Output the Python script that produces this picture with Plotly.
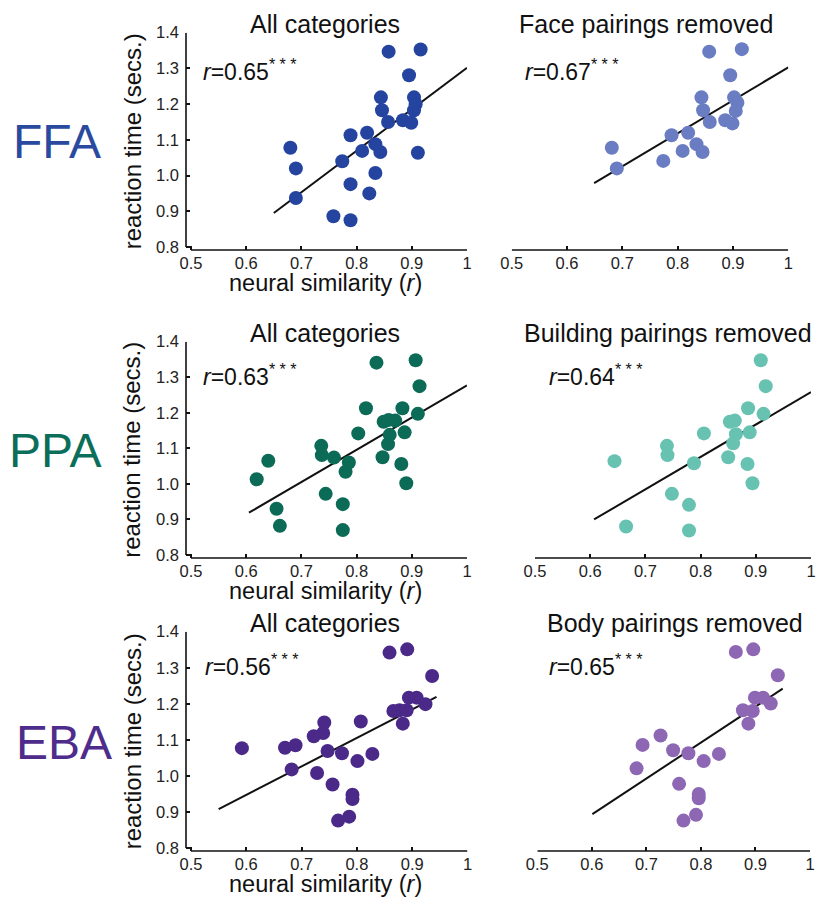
import plotly.graph_objects as go

# ---- data: neural similarity (r) vs. reaction time (secs.) ----
ffa_all_x = [0.858, 0.916, 0.895, 0.844, 0.904, 0.907, 0.904, 0.846, 0.857, 0.884, 0.899, 0.819, 0.789,
             0.680, 0.834, 0.810, 0.843, 0.911, 0.774, 0.690, 0.834, 0.789, 0.690, 0.823, 0.758, 0.789]
ffa_all_y = [1.347, 1.353, 1.281, 1.219, 1.219, 1.200, 1.183, 1.183, 1.150, 1.155, 1.148, 1.120, 1.113,
             1.078, 1.088, 1.069, 1.066, 1.064, 1.040, 1.020, 1.007, 0.976, 0.937, 0.950, 0.886, 0.875]
ffa_sub_x = [0.857, 0.916, 0.895, 0.843, 0.902, 0.908, 0.905, 0.846, 0.858, 0.886, 0.899, 0.819, 0.789,
             0.681, 0.834, 0.809, 0.845, 0.774, 0.690]
ffa_sub_y = [1.347, 1.354, 1.281, 1.219, 1.219, 1.204, 1.181, 1.183, 1.150, 1.155, 1.146, 1.120, 1.113,
             1.078, 1.088, 1.069, 1.066, 1.041, 1.020]

ppa_all_x = [0.907, 0.836, 0.914, 0.817, 0.883, 0.911, 0.849, 0.858, 0.870, 0.803, 0.887, 0.860, 0.857, 0.736,
             0.737, 0.759, 0.786, 0.780, 0.847, 0.881, 0.640, 0.619, 0.890, 0.744, 0.775, 0.655, 0.661, 0.775]
ppa_all_y = [1.348, 1.341, 1.275, 1.213, 1.213, 1.197, 1.175, 1.180, 1.178, 1.142, 1.145, 1.138, 1.112, 1.107,
             1.081, 1.074, 1.060, 1.034, 1.075, 1.056, 1.065, 1.013, 1.002, 0.972, 0.943, 0.930, 0.882, 0.870]
ppa_sub_x = [0.909, 0.918, 0.886, 0.914, 0.853, 0.862, 0.806, 0.889, 0.864, 0.859, 0.739,
             0.740, 0.788, 0.850, 0.885, 0.644, 0.894, 0.748, 0.779, 0.665, 0.779]
ppa_sub_y = [1.348, 1.275, 1.213, 1.197, 1.175, 1.178, 1.142, 1.145, 1.140, 1.114, 1.107,
             1.081, 1.058, 1.075, 1.056, 1.064, 1.002, 0.972, 0.941, 0.880, 0.869]

eba_all_x = [0.891, 0.859, 0.936, 0.894, 0.908, 0.924, 0.866, 0.877, 0.890, 0.883, 0.807, 0.741, 0.739, 0.722,
             0.592, 0.670, 0.689, 0.747, 0.773, 0.828, 0.801, 0.682, 0.728, 0.756, 0.792, 0.792, 0.786, 0.766]
eba_all_y = [1.351, 1.342, 1.277, 1.217, 1.217, 1.199, 1.180, 1.182, 1.182, 1.145, 1.151, 1.148, 1.119, 1.110,
             1.077, 1.078, 1.085, 1.069, 1.063, 1.061, 1.041, 1.018, 1.008, 0.976, 0.948, 0.936, 0.887, 0.876]
eba_sub_x = [0.896, 0.864, 0.941, 0.899, 0.914, 0.928, 0.877, 0.895, 0.887, 0.726, 0.693,
             0.749, 0.777, 0.833, 0.805, 0.682, 0.760, 0.796, 0.796, 0.791, 0.768]
eba_sub_y = [1.351, 1.344, 1.279, 1.217, 1.217, 1.201, 1.182, 1.180, 1.145, 1.112, 1.086,
             1.071, 1.063, 1.061, 1.041, 1.021, 0.978, 0.950, 0.938, 0.892, 0.876]

# regression line end points for each panel
fit_x = [[0.650, 1.000], [0.649, 1.000], [0.605, 1.000], [0.607, 1.000], [0.550, 0.944], [0.601, 0.950]]
fit_y = [[0.895, 1.302], [0.979, 1.303], [0.919, 1.277], [0.900, 1.258], [0.908, 1.219], [0.894, 1.242]]

r_values = ["0.65", "0.67", "0.63", "0.64", "0.56", "0.65"]
titles = ["All categories", "Face pairings removed",
          "All categories", "Building pairings removed",
          "All categories", "Body pairings removed"]
regions = ["FFA", "PPA", "EBA"]
region_colors = ["#2A4A9F", "#0B6E5A", "#4E2C8C"]
dot_colors = ["#2444A0", "#6A7CC2", "#0C6B56", "#67C2B1", "#4A2989", "#8D67B4"]

x_ticks = [0.5, 0.6, 0.7, 0.8, 0.9, 1.0]
x_ticktext = ["0.5", "0.6", "0.7", "0.8", "0.9", "1"]
y_ticks = [0.8, 0.9, 1.0, 1.1, 1.2, 1.3, 1.4]

panel_x = [ffa_all_x, ffa_sub_x, ppa_all_x, ppa_sub_x, eba_all_x, eba_sub_x]
panel_y = [ffa_all_y, ffa_sub_y, ppa_all_y, ppa_sub_y, eba_all_y, eba_sub_y]

# ---- layout geometry (pixels) ----
W, H = 827, 898
FONT = "Liberation Sans, Arial, Helvetica, sans-serif"
row_px = [(32.7, 250.0), (341.7, 558.0), (631.7, 851.0)]        # top (1.4) / x-axis line
col_px = [[(186.0, 467.0), (511.7, 788.3)],
          [(186.0, 467.0), (535.0, 811.0)],
          [(186.0, 467.5), (537.3, 810.0)]]
title_cx = [[325, 646], [325, 668], [325, 675]]
rlabel_px = [[(201, 80), (523, 80)], [(201, 385), (547, 385)], [(203, 675), (547, 675)]]
region_px = [(11, 142), (7, 451), (14, 742)]


def fx(p):
    return p / W


def fy(p):
    return 1 - p / H


fig = go.Figure()
layout = dict(width=W, height=H, margin=dict(l=0, r=0, t=0, b=0),
              paper_bgcolor="white", plot_bgcolor="white", showlegend=False,
              font=dict(family=FONT, color="#111111"))
annotations = []
shapes = []

for i in range(6):
    row, col = divmod(i, 2)
    n = "" if i == 0 else str(i + 1)
    xa, ya = "x" + n, "y" + n
    top, bot = row_px[row]
    left, right = col_px[row][col]

    fig.add_trace(go.Scatter(x=fit_x[i], y=fit_y[i], mode="lines",
                             line=dict(color="#111111", width=2), xaxis=xa, yaxis=ya,
                             hoverinfo="skip"))
    fig.add_trace(go.Scatter(x=panel_x[i], y=panel_y[i], mode="markers",
                             marker=dict(size=14, color=dot_colors[i], line=dict(width=0)),
                             xaxis=xa, yaxis=ya))

    x_lo = 0.5 - (0.5 * 5 / (right - left - 5)) if col == 0 else 0.5
    yscale = (bot - 3 - top) / 0.6
    y_lo = 0.8 - 3 / yscale

    layout["xaxis" + n] = dict(domain=[fx(left), fx(right)], range=[x_lo, 1.0], anchor=ya,
                               tickvals=x_ticks, ticktext=x_ticktext, ticks="inside", ticklen=4,
                               tickwidth=1.5, tickcolor="#111111", showline=False, showgrid=False,
                               zeroline=False, tickfont=dict(size=16.5, color="#222222", family=FONT),
                               ticklabelstandoff=1, automargin=False, fixedrange=True)
    layout["yaxis" + n] = dict(domain=[fy(bot), fy(top)], range=[y_lo, 1.4], anchor=xa,
                               tickvals=y_ticks, tickformat=".1f", ticks="inside", ticklen=4,
                               tickwidth=1.5, tickcolor="#111111", showline=False, showgrid=False,
                               zeroline=False, tickfont=dict(size=16.5, color="#222222", family=FONT),
                               ticklabelstandoff=6, visible=(col == 0), automargin=False,
                               fixedrange=True)

    # detached axis lines
    shapes.append(dict(type="line", xref=xa, yref=ya + " domain", x0=0.5, x1=1.0, y0=0, y1=0,
                       line=dict(color="#111111", width=1.6)))
    if col == 0:
        shapes.append(dict(type="line", xref=xa + " domain", yref=ya, x0=0, x1=0, y0=0.8, y1=1.4,
                           line=dict(color="#111111", width=1.6)))

    # panel title
    annotations.append(dict(text=titles[i], x=fx(title_cx[row][col]), y=fy(top - 9),
                            xref="paper", yref="paper", xanchor="center", yanchor="middle",
                            showarrow=False, font=dict(size=25, color="#111111", family=FONT)))
    # correlation label
    rx, ry = rlabel_px[row][col]
    annotations.append(dict(text="<i>r</i>=" + r_values[i] + "<sup>* * *</sup>",
                            x=fx(rx), y=fy(ry - 10), xref="paper", yref="paper",
                            xanchor="left", yanchor="middle", showarrow=False,
                            font=dict(size=23, color="#111111", family=FONT)))
    if col == 0:
        annotations.append(dict(text="neural similarity (<i>r</i>)", x=fx(325), y=fy(bot + 33),
                                xref="paper", yref="paper", xanchor="center", yanchor="middle",
                                showarrow=False, font=dict(size=23.5, color="#111111", family=FONT)))
        annotations.append(dict(text="reaction time (secs.)", x=fx(132), y=fy((top + bot) / 2),
                                xref="paper", yref="paper", xanchor="center", yanchor="middle",
                                textangle=-90, showarrow=False,
                                font=dict(size=24, color="#111111", family=FONT)))

for k, name in enumerate(regions):
    lx, ly = region_px[k]
    annotations.append(dict(text=name, x=fx(lx), y=fy(ly), xref="paper", yref="paper",
                            xanchor="left", yanchor="middle", showarrow=False,
                            font=dict(size=48, color=region_colors[k], family=FONT)))

layout["annotations"] = annotations
layout["shapes"] = shapes
fig.update_layout(**layout)

# the page body keeps no default margin so the figure fills the window exactly
fig.write_html("out.html", post_script="document.body.style.margin='0';")
